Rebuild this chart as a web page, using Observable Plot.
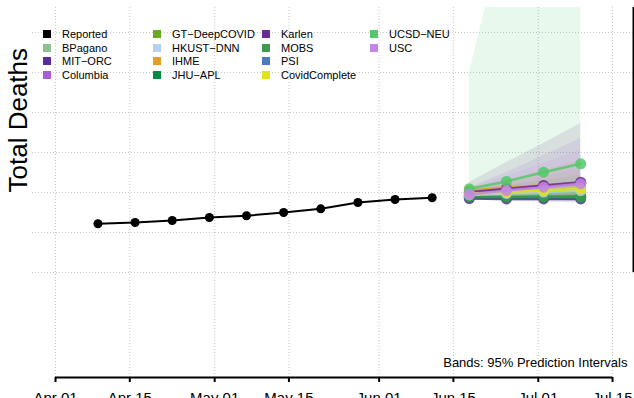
<!DOCTYPE html>
<html>
<head>
<meta charset="utf-8">
<script src="https://cdn.jsdelivr.net/npm/d3@7"></script>
<script src="https://cdn.jsdelivr.net/npm/@observablehq/plot@0.6"></script>
<style>
  body { margin: 0; background: #fff; }
  #wrap { position: relative; width: 634px; height: 398px; overflow: hidden; font-family: "Liberation Sans", Arial, sans-serif; }
  #legend { position: absolute; left: 43px; top: 27px; display: grid; grid-auto-flow: column; grid-template-rows: repeat(4, 13.7px); grid-template-columns: 110px 109px 108px 120px; font-size: 11px; color: #000; }
  #legend .item { display: flex; align-items: center; white-space: nowrap; }
  #legend .sw { width: 8px; height: 8px; margin-right: 11px; flex: none; }
</style>
</head>
<body>
<div id="wrap"></div>
<script>
// ---- data ----
const reportedDates = ["2020-04-09","2020-04-16","2020-04-23","2020-04-30","2020-05-07","2020-05-14","2020-05-21","2020-05-28","2020-06-04","2020-06-11"];
const reportedDeaths = [2609, 2625, 2650, 2688, 2709, 2750, 2796, 2875, 2912, 2934];

const forecastDates = ["2020-06-18","2020-06-25","2020-07-02","2020-07-09"];

const modelNames = ["BPagano","MIT\u2212ORC","Columbia","GT\u2212DeepCOVID","HKUST\u2212DNN","IHME","JHU\u2212APL","Karlen","MOBS","PSI","CovidComplete","UCSD\u2212NEU","USC"];
const modelColors = ["#8fbf8f","#5b2ca0","#a95fd6","#6aaa1e","#b9cff2","#e0a030","#008c45","#6a2c91","#3d9a4e","#4e79bd","#dfe31a","#54c86a","#c286e8"];
// order in which the model forecasts are drawn (last on top)
const drawOrder = ["PSI","BPagano","MIT\u2212ORC","JHU\u2212APL","MOBS","GT\u2212DeepCOVID","HKUST\u2212DNN","IHME","Columbia","Karlen","CovidComplete","UCSD\u2212NEU","USC"];

const forecastMedian = [
  [2962, 2975, 2988, 3000],
  [2925, 2919, 2919, 2919],
  [2988, 3031, 3075, 3113],
  [2975, 2994, 3013, 3031],
  [2969, 2988, 3006, 3025],
  [3025, 3063, 3088, 3113],
  [2944, 2941, 2941, 2941],
  [3004, 3046, 3088, 3129],
  [2950, 2944, 2944, 2944],
  [2948, 2945, 2948, 2952],
  [2988, 3004, 3025, 3046],
  [3046, 3138, 3254, 3359],
  [2975, 3025, 3066, 3109]
];
const forecastLower = [
  [2935, 2925, 2915, 2905],
  [2905, 2890, 2880, 2870],
  [2930, 2920, 2910, 2900],
  [2935, 2925, 2915, 2905],
  [2925, 2910, 2900, 2890],
  [2960, 2950, 2940, 2930],
  [2925, 2915, 2905, 2895],
  [2940, 2930, 2920, 2910],
  [2925, 2915, 2905, 2895],
  [2930, 2920, 2910, 2900],
  [2945, 2935, 2925, 2915],
  [2950, 2940, 2930, 2920],
  [2935, 2925, 2915, 2905]
];
const forecastUpper = [
  [2988, 3025, 3050, 3087],
  [2962, 2975, 2988, 3000],
  [3062, 3250, 3462, 3675],
  [3025, 3087, 3150, 3212],
  [3025, 3112, 3200, 3300],
  [3050, 3150, 3275, 3400],
  [2962, 2975, 2988, 3000],
  [3125, 3375, 3612, 3862],
  [2975, 2988, 3000, 3025],
  [2975, 2988, 3000, 3025],
  [3012, 3050, 3100, 3150],
  [4500, 6375, 8525, 10400],
  [3050, 3200, 3362, 3525]
];

const xTickDates = ["2020-04-01","2020-04-15","2020-05-01","2020-05-15","2020-06-01","2020-06-15","2020-07-01","2020-07-15"];
const yGridValues = [2000, 2500, 3000, 3500, 4000, 4500, 5000];
const legendLabels = ["Reported", ...modelNames];
const legendColors = ["#000000", ...modelColors];

// ---- build tables ----
const reported = reportedDates.map((d, i) => ({date: new Date(d), deaths: reportedDeaths[i]}));
const forecasts = modelNames.flatMap((m, k) => forecastDates.map((d, i) => ({
  model: m, date: new Date(d), median: forecastMedian[k][i], lo: forecastLower[k][i], hi: forecastUpper[k][i]
})));
const xTicks = xTickDates.map(d => new Date(d));

const DAY = 864e5;
const day0 = +new Date("2020-04-01");
const xDomain = [new Date(day0 - 4.34 * DAY), new Date(day0 + 108.95 * DAY)];
const yDomain = [687.5, 5312.5];

const marks = [
  Plot.gridX(xTicks, {stroke: "#c8c8c8", strokeOpacity: 1, strokeDasharray: "1,2"}),
  Plot.gridY(yGridValues, {stroke: "#c8c8c8", strokeOpacity: 1, strokeDasharray: "1,2"}),
  Plot.areaY(forecasts, {x: "date", y1: "lo", y2: "hi", z: "model", fill: "model", fillOpacity: 0.13, clip: true}),
  Plot.line(reported, {x: "date", y: "deaths", stroke: "#000", strokeWidth: 2}),
  Plot.dot(reported, {x: "date", y: "deaths", fill: "#000", r: 4.5}),
  ...drawOrder.flatMap(m => {
    const rows = forecasts.filter(f => f.model === m);
    return [
      Plot.line(rows, {x: "date", y: "median", stroke: "model", strokeWidth: 2.5, strokeOpacity: 0.85}),
      Plot.dot(rows, {x: "date", y: "median", fill: "model", r: 5.5, fillOpacity: 0.85})
    ];
  }),
  Plot.ruleY([yDomain[0]], {x1: xTicks[0], x2: xTicks[xTicks.length - 1], stroke: "#000", strokeWidth: 2}),
  Plot.axisX(xTicks, {tickFormat: d3.utcFormat("%b %d"), tickSize: 5, tickPadding: 10, strokeWidth: 2, fontSize: 15, label: null}),
  Plot.ruleX([xDomain[1]], {y1: 2000, y2: yDomain[1], stroke: "#000", strokeWidth: 2}),
  Plot.text(["Total Deaths"], {frameAnchor: "left", rotate: -90, dx: -14, fontSize: 26}),
  Plot.text(["Bands: 95% Prediction Intervals"], {frameAnchor: "bottom-right", lineAnchor: "middle", textAnchor: "end", dx: -6, dy: -15, fontSize: 13})
];

const chart = Plot.plot({
  width: 634,
  height: 398,
  marginLeft: 32,
  marginRight: 1,
  marginTop: 7,
  marginBottom: 21,
  style: {fontFamily: "Liberation Sans, Arial, sans-serif", background: "#fff", overflow: "visible"},
  x: {type: "utc", domain: xDomain, axis: null},
  y: {domain: yDomain, axis: null},
  color: {domain: modelNames, range: modelColors},
  marks
});

const wrap = document.getElementById("wrap");
wrap.appendChild(chart);

const legend = document.createElement("div");
legend.id = "legend";
legendLabels.forEach((lab, i) => {
  const item = document.createElement("div");
  item.className = "item";
  const sw = document.createElement("span");
  sw.className = "sw";
  sw.style.background = legendColors[i];
  const tx = document.createElement("span");
  tx.textContent = lab;
  item.appendChild(sw);
  item.appendChild(tx);
  legend.appendChild(item);
});
wrap.appendChild(legend);
</script>
</body>
</html>
